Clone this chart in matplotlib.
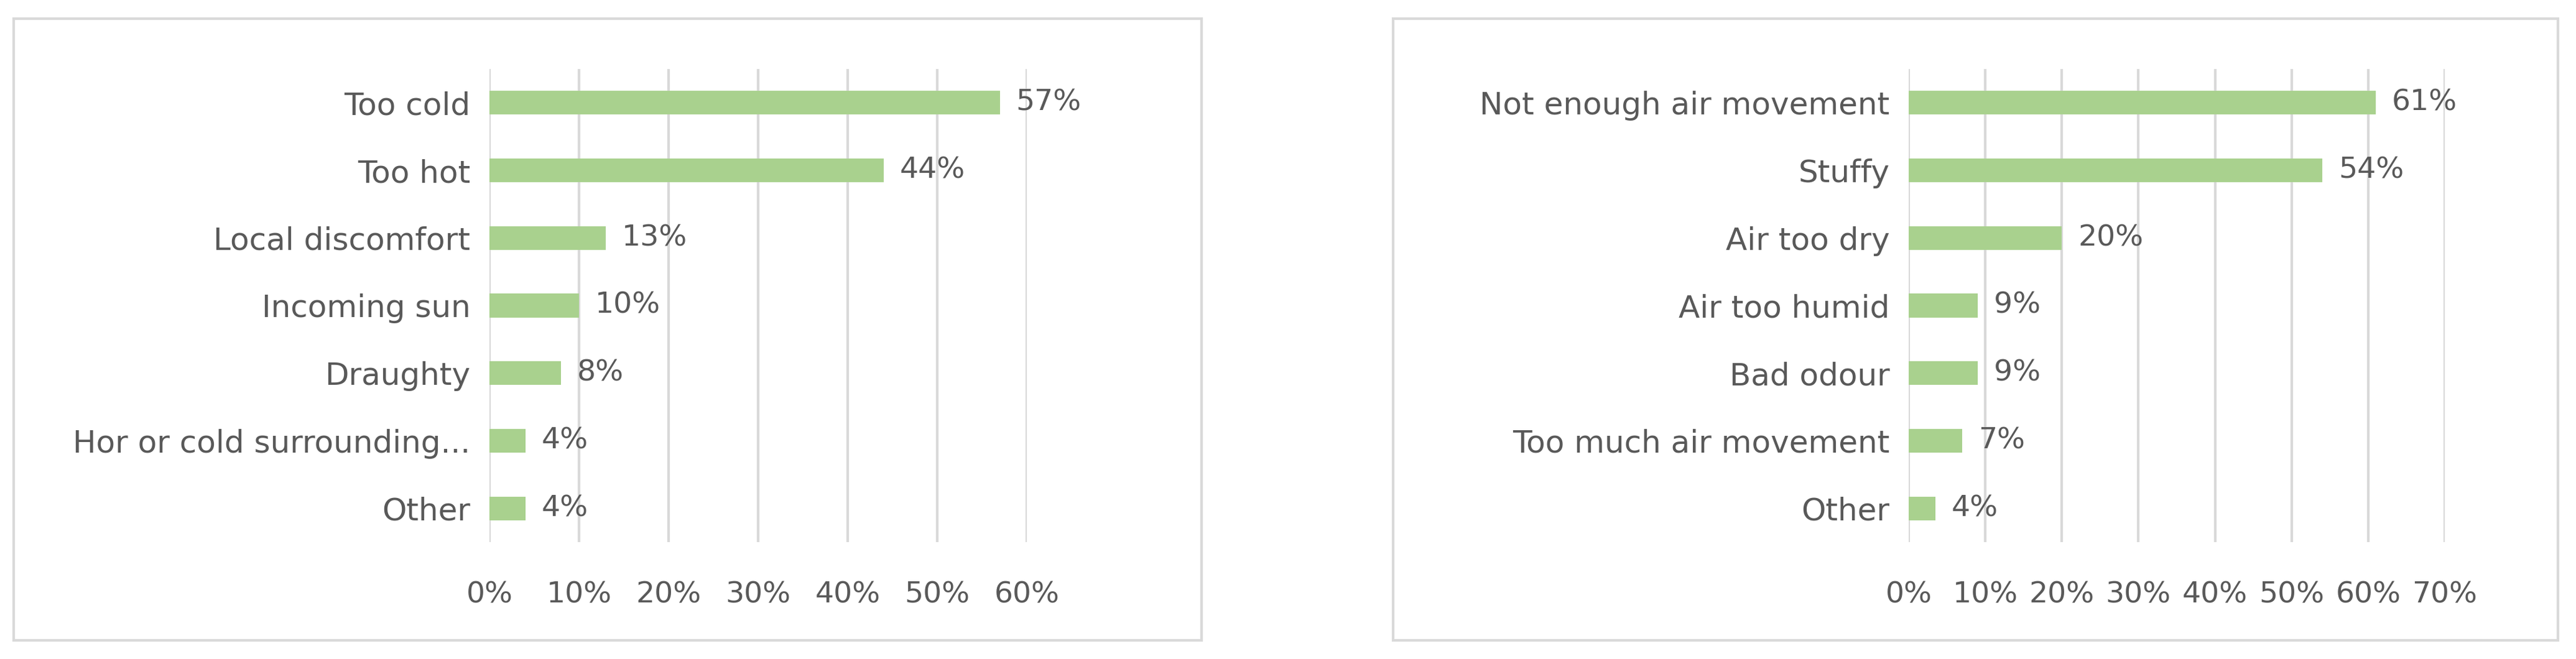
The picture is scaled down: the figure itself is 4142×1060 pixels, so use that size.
import matplotlib.pyplot as plt
from matplotlib.patches import Rectangle

left_cats = ['Too cold', 'Too hot', 'Local discomfort', 'Incoming sun', 'Draughty',
             'Hor or cold surrounding...', 'Other']
left_vals = [57, 44, 13, 10, 8, 4, 4]
right_cats = ['Not enough air movement', 'Stuffy', 'Air too dry', 'Air too humid',
              'Bad odour', 'Too much air movement', 'Other']
right_vals = [61, 54, 20, 9, 9, 7, 3.5]
right_labels = ['61%', '54%', '20%', '9%', '9%', '7%', '4%']

plt.rcParams['font.family'] = ['Liberation Sans Narrow', 'DejaVu Sans']
W, H = 4142, 1060
fig = plt.figure(figsize=(W / 100, H / 100), dpi=100)
txt = '#595959'
bar_c = '#A9D18E'

def panel(box, ax_rect, cats, vals, labels, xmax):
    fig.patches.append(Rectangle((box[0] / W, box[1] / H), box[2] / W, box[3] / H,
                                 transform=fig.transFigure, fill=False,
                                 edgecolor='#D9D9D9', lw=3))
    ax = fig.add_axes([ax_rect[0] / W, ax_rect[1] / H, ax_rect[2] / W, ax_rect[3] / H])
    y = list(range(len(cats)))
    ax.barh(y, vals, height=0.35, color=bar_c, zorder=3)
    for yi, v, l in zip(y, vals, labels):
        ax.text(v + xmax * 0.03, yi, l, va='center', ha='left', fontsize=34, color=txt)
    ax.set_yticks(y)
    ax.set_yticklabels(cats, fontsize=36, color=txt)
    ax.invert_yaxis()
    ax.set_ylim(len(cats) - 0.5, -0.5)
    ax.set_xlim(0, xmax)
    ax.set_xticks(range(0, xmax + 1, 10))
    ax.set_xticklabels([f'{t}%' for t in range(0, xmax + 1, 10)], fontsize=34, color=txt)
    ax.grid(axis='x', color='#D9D9D9', lw=3, zorder=0)
    for s in ax.spines.values():
        s.set_visible(False)
    ax.tick_params(length=0, pad=22)
    ax.tick_params(axis='x', pad=45)

# boxes in pixel coords (x, y from bottom, w, h)
panel((22, 30, 1910, 1000), (787, 188, 864, 761), left_cats, left_vals,
      [f'{v}%' for v in left_vals], 60)
panel((2240, 30, 1873, 1000), (3069, 188, 862, 761), right_cats, right_vals,
      right_labels, 70)

fig.savefig('out.png', dpi=100, facecolor='white')
